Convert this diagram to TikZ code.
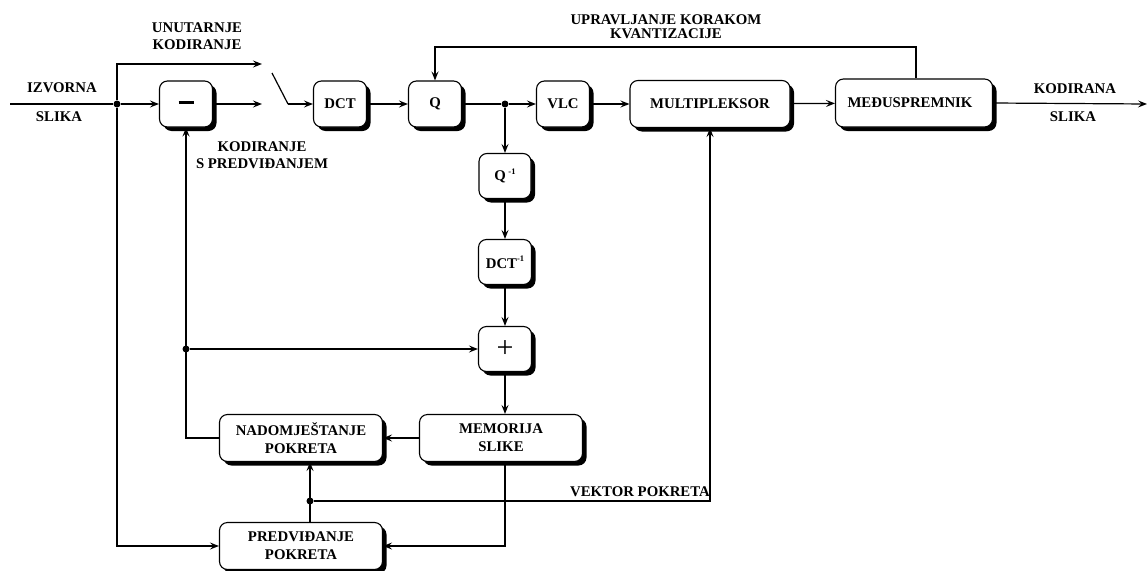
\documentclass[tikz,border=0pt]{standalone}
\usepackage{fontspec}
\setmainfont{Liberation Serif}
\usetikzlibrary{arrows.meta,shadows}

\begin{document}
\begin{tikzpicture}[x=1pt,y=-1pt,
  every node/.style={font=\fontsize{14.8}{18}\selectfont\bfseries},
  blk/.style={draw, fill=white, line width=1.1pt, rounded corners=8pt,
    inner sep=0pt, align=center,
    drop shadow={shadow xshift=4pt, shadow yshift=-4pt, opacity=1, fill=black}},
  small/.style={blk, minimum width=53pt, minimum height=46pt},
  wide/.style={blk, minimum width=163pt, minimum height=47pt},
  lbl/.style={inner sep=0pt, align=center},
  wire/.style={line width=1.2pt},
  conn/.style={line width=1.2pt, -{Stealth[open,length=9pt,width=7pt,inset=3.5pt]}},
  dot/.style={circle, fill=black, inner sep=0pt, minimum size=7pt}]

\useasboundingbox (0,0) rectangle (1147,570);

% processing blocks
\node[small] (minus) at (186,104) {\rule[0.5ex]{15pt}{2.8pt}};
\node[small] (dct)   at (340,104) {DCT};
\node[small] (q)     at (435,104) {Q};
\node[small] (vlc)   at (563,104) {VLC};
\node[blk, minimum width=160pt, minimum height=47pt] (mux) at (710,104) {MULTIPLEKSOR};
\node[blk, minimum width=157pt, minimum height=48pt] (buf) at (914,103) {MEĐUSPREMNIK\hspace*{8pt}};
\node[small, minimum width=52pt, minimum height=45pt] (qi) at (505,176)
  {Q\,\raisebox{6pt}{\fontsize{8.5}{8}\selectfont -1}};
\node[small, minimum height=45pt] (dcti) at (505,262)
  {DCT\raisebox{7pt}{\fontsize{8.5}{8}\selectfont -1}};
\node[small, minimum height=45pt] (plus) at (505,349) {\fontsize{30}{30}\selectfont\mdseries +};
\node[wide] (mc)  at (301,438) {NADOMJEŠTANJE\\POKRETA};
\node[wide] (mem) at (501,438) {MEMORIJA\\SLIKE};
\node[wide] (me)  at (301,546) {PREDVIĐANJE\\POKRETA};

% junctions and free ends
\node[dot] (jin) at (117,104) {};
\node[dot] (jq)  at (505,104) {};
\node[dot] (jp)  at (186,349) {};
\node[dot] (jv)  at (310,501) {};
\coordinate (src)   at (10,104);
\coordinate (intra) at (262,64);
\coordinate (inter) at (262,104);
\coordinate (swa)   at (272,73);
\coordinate (swb)   at (288,104);
\coordinate (out)   at (1147,104);
\coordinate (fbr)   at (916,47);
\coordinate (fbl)   at (435,47);

% forward path
\draw[wire] (src) -- (jin);
\draw[conn] (jin) -- (minus.west);
\draw[conn] (jin) |- (intra);
\draw[conn] (jin) |- (me.west);
\draw[conn] (minus.east) -- (inter);
\draw[wire] (swa) -- (swb);
\draw[conn] (swb) -- (dct.west);
\draw[conn] (dct) -- (q);
\draw[wire] (q.east) -- (jq);
\draw[conn] (jq) -- (vlc.west);
\draw[conn] (vlc) -- (mux);
\draw[conn] (mux) -- (buf);
\draw[conn] (buf.east) -- (out);

% quantizer step control
\draw[conn] (fbr |- buf.north) -- (fbr) -- (fbl) -- (q.north);

% reconstruction loop
\draw[conn] (jq) -- (qi.north);
\draw[conn] (qi) -- (dcti);
\draw[conn] (dcti) -- (plus);
\draw[conn] (plus.south) -- (plus.south |- mem.north);
\draw[conn] (mem.west) -- (mc.east);
\draw[conn] (mc.west) -| (minus.south);
\draw[conn] (jp) -- (plus.west);
\draw[conn] (mem.south -| plus) |- (me.east);
\draw[conn] (jv |- me.north) -- (jv |- mc.south);
\draw[conn] (jv) -| (mux.south);

% labels
\node[lbl] (lintra) at (197,36) {UNUTARNJE\\[-1pt]KODIRANJE};
\node[lbl] (lin1)   at (62,88)  {IZVORNA};
\node[lbl] (lin2)   at (59,117) {SLIKA};
\node[lbl] (linter) at (262,155) {KODIRANJE\\[-1pt]S PREDVIĐANJEM};
\node[lbl] (lstep)  at (666,27) {UPRAVLJANJE KORAKOM\\[-4pt]KVANTIZACIJE};
\node[lbl] (lout1)  at (1075,89) {KODIRANA};
\node[lbl] (lout2)  at (1073,117) {SLIKA};
\node[lbl, anchor=base east] (lvec) at (710,496) {VEKTOR POKRETA};

\end{tikzpicture}
\end{document}
